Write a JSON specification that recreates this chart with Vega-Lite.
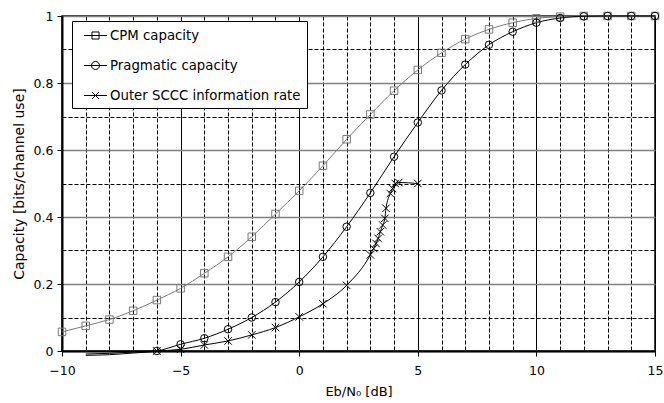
{
  "$schema": "https://vega.github.io/schema/vega-lite/v6.json",
  "width": 593,
  "height": 335,
  "autosize": {"type": "none"},
  "padding": {"left": 62, "top": 16, "right": 9, "bottom": 52},
  "background": "white",
  "config": {"font": "DejaVu Sans", "view": {"stroke": "black", "strokeWidth": 1.5}},
  "data": {"values": [
    {"series": "CPM capacity", "x": -10, "y": 0.057},
    {"series": "CPM capacity", "x": -9, "y": 0.075},
    {"series": "CPM capacity", "x": -8, "y": 0.094},
    {"series": "CPM capacity", "x": -7, "y": 0.12},
    {"series": "CPM capacity", "x": -6, "y": 0.152},
    {"series": "CPM capacity", "x": -5, "y": 0.187},
    {"series": "CPM capacity", "x": -4, "y": 0.232},
    {"series": "CPM capacity", "x": -3, "y": 0.281},
    {"series": "CPM capacity", "x": -2, "y": 0.341},
    {"series": "CPM capacity", "x": -1, "y": 0.409},
    {"series": "CPM capacity", "x": 0, "y": 0.478},
    {"series": "CPM capacity", "x": 1, "y": 0.553},
    {"series": "CPM capacity", "x": 2, "y": 0.632},
    {"series": "CPM capacity", "x": 3, "y": 0.706},
    {"series": "CPM capacity", "x": 4, "y": 0.777},
    {"series": "CPM capacity", "x": 5, "y": 0.839},
    {"series": "CPM capacity", "x": 6, "y": 0.89},
    {"series": "CPM capacity", "x": 7, "y": 0.931},
    {"series": "CPM capacity", "x": 8, "y": 0.96},
    {"series": "CPM capacity", "x": 9, "y": 0.98},
    {"series": "CPM capacity", "x": 10, "y": 0.993},
    {"series": "CPM capacity", "x": 11, "y": 0.998},
    {"series": "CPM capacity", "x": 12, "y": 1},
    {"series": "CPM capacity", "x": 13, "y": 1},
    {"series": "CPM capacity", "x": 14, "y": 1},
    {"series": "CPM capacity", "x": 15, "y": 1},
    {"series": "Pragmatic capacity", "x": -9, "y": -0.013},
    {"series": "Pragmatic capacity", "x": -8, "y": -0.011},
    {"series": "Pragmatic capacity", "x": -7, "y": -0.006},
    {"series": "Pragmatic capacity", "x": -6, "y": 0},
    {"series": "Pragmatic capacity", "x": -5, "y": 0.02},
    {"series": "Pragmatic capacity", "x": -4, "y": 0.038},
    {"series": "Pragmatic capacity", "x": -3, "y": 0.065},
    {"series": "Pragmatic capacity", "x": -2, "y": 0.1},
    {"series": "Pragmatic capacity", "x": -1, "y": 0.146},
    {"series": "Pragmatic capacity", "x": 0, "y": 0.206},
    {"series": "Pragmatic capacity", "x": 1, "y": 0.281},
    {"series": "Pragmatic capacity", "x": 2, "y": 0.371},
    {"series": "Pragmatic capacity", "x": 3, "y": 0.472},
    {"series": "Pragmatic capacity", "x": 4, "y": 0.58},
    {"series": "Pragmatic capacity", "x": 5, "y": 0.682},
    {"series": "Pragmatic capacity", "x": 6, "y": 0.778},
    {"series": "Pragmatic capacity", "x": 7, "y": 0.855},
    {"series": "Pragmatic capacity", "x": 8, "y": 0.914},
    {"series": "Pragmatic capacity", "x": 9, "y": 0.953},
    {"series": "Pragmatic capacity", "x": 10, "y": 0.98},
    {"series": "Pragmatic capacity", "x": 11, "y": 0.994},
    {"series": "Pragmatic capacity", "x": 12, "y": 0.999},
    {"series": "Pragmatic capacity", "x": 13, "y": 1},
    {"series": "Pragmatic capacity", "x": 14, "y": 1},
    {"series": "Pragmatic capacity", "x": 15, "y": 1},
    {"series": "Outer SCCC information rate", "x": -9, "y": -0.009},
    {"series": "Outer SCCC information rate", "x": -8, "y": -0.007},
    {"series": "Outer SCCC information rate", "x": -7, "y": -0.003},
    {"series": "Outer SCCC information rate", "x": -6, "y": 0},
    {"series": "Outer SCCC information rate", "x": -5, "y": 0.005},
    {"series": "Outer SCCC information rate", "x": -4, "y": 0.018},
    {"series": "Outer SCCC information rate", "x": -3, "y": 0.03},
    {"series": "Outer SCCC information rate", "x": -2, "y": 0.048},
    {"series": "Outer SCCC information rate", "x": -1, "y": 0.07},
    {"series": "Outer SCCC information rate", "x": 0, "y": 0.102},
    {"series": "Outer SCCC information rate", "x": 1, "y": 0.141},
    {"series": "Outer SCCC information rate", "x": 2, "y": 0.196},
    {"series": "Outer SCCC information rate", "x": 3.0, "y": 0.287},
    {"series": "Outer SCCC information rate", "x": 3.14, "y": 0.306},
    {"series": "Outer SCCC information rate", "x": 3.24, "y": 0.321},
    {"series": "Outer SCCC information rate", "x": 3.33, "y": 0.336},
    {"series": "Outer SCCC information rate", "x": 3.42, "y": 0.356},
    {"series": "Outer SCCC information rate", "x": 3.52, "y": 0.376},
    {"series": "Outer SCCC information rate", "x": 3.61, "y": 0.396},
    {"series": "Outer SCCC information rate", "x": 3.66, "y": 0.426},
    {"series": "Outer SCCC information rate", "x": 3.84, "y": 0.47},
    {"series": "Outer SCCC information rate", "x": 3.94, "y": 0.485},
    {"series": "Outer SCCC information rate", "x": 4.05, "y": 0.5},
    {"series": "Outer SCCC information rate", "x": 4.2, "y": 0.503},
    {"series": "Outer SCCC information rate", "x": 5, "y": 0.5}
  ]},
  "encoding": {
    "x": {
      "field": "x", "type": "quantitative",
      "scale": {"domain": [-10, 15], "nice": false, "zero": false},
      "axis": {
        "values": [-10,-9,-8,-7,-6,-5,-4,-3,-2,-1,0,1,2,3,4,5,6,7,8,9,10,11,12,13,14,15],
        "labelExpr": "datum.value % 5 === 0 ? datum.label : ''",
        "grid": true,
        "gridColor": "black",
        "gridWidth": 1,
        "gridDash": {"condition": {"test": "datum.value % 5 === 0", "value": []}, "value": [4, 2]},
        "tickColor": "black",
        "tickSize": 5,
        "tickOpacity": {"condition": {"test": "datum.value % 5 === 0", "value": 1}, "value": 0},
        "domainColor": "black",
        "domainWidth": 2,
        "labelFontSize": 12.5,
        "labelColor": "black",
        "labelPadding": 8,
        "labelFlush": false,
        "title": "Eb/N₀ [dB]",
        "titleFontSize": 13,
        "titleFontWeight": "normal",
        "titleColor": "black",
        "titlePadding": 9
      }
    },
    "y": {
      "field": "y", "type": "quantitative",
      "scale": {"domain": [0, 1], "nice": false, "zero": false},
      "axis": {
        "values": [0, 0.1, 0.2, 0.3, 0.4, 0.5, 0.6, 0.7, 0.8, 0.9, 1],
        "format": "~g",
        "labelExpr": "round(datum.value * 10) % 2 === 0 ? datum.label : ''",
        "grid": true,
        "gridColor": {"condition": {"test": "round(datum.value * 10) % 2 === 0", "value": "#808080"}, "value": "black"},
        "gridWidth": {"condition": {"test": "round(datum.value * 10) % 2 === 0", "value": 1.5}, "value": 1},
        "gridDash": {"condition": {"test": "round(datum.value * 10) % 2 === 0", "value": []}, "value": [4, 2]},
        "tickColor": "black",
        "tickSize": 5,
        "tickOpacity": {"condition": {"test": "round(datum.value * 10) % 2 === 0", "value": 1}, "value": 0},
        "domainColor": "black",
        "domainWidth": 2,
        "labelFontSize": 12.5,
        "labelColor": "black",
        "labelPadding": 4,
        "labelFlush": false,
        "title": "Capacity [bits/channel use]",
        "titleFontSize": 14,
        "titleFontWeight": "normal",
        "titleColor": "black",
        "titlePadding": 7
      }
    },
    "color": {
      "field": "series", "type": "nominal",
      "scale": {"domain": ["CPM capacity", "Pragmatic capacity", "Outer SCCC information rate"], "range": ["#7a7a7a", "#000000", "#000000"]},
      "legend": null
    }
  },
  "layer": [
    {"mark": {"type": "line", "interpolate": "monotone", "strokeWidth": 1}},
    {
      "transform": [{"filter": "datum.y >= 0"}, {"calculate": "datum.series", "as": "marker"}],
      "mark": {"type": "point", "filled": false, "size": 56, "strokeWidth": 1, "opacity": 1},
      "encoding": {
        "shape": {
          "field": "marker", "type": "nominal",
          "scale": {"domain": ["CPM capacity", "Pragmatic capacity", "Outer SCCC information rate"], "range": ["square", "circle", "M-1,-1L1,1M-1,1L1,-1"]},
          "legend": null
        }
      }
    },
    {
      "transform": [{"filter": "false"}],
      "mark": {"type": "point", "filled": false, "strokeWidth": 1, "opacity": 1},
      "encoding": {
        "shape": {
          "field": "series", "type": "nominal",
          "scale": {"domain": ["CPM capacity", "Pragmatic capacity", "Outer SCCC information rate"], "range": [
            "M-1.45,0H1.45M-0.44,-0.44H0.44V0.44H-0.44Z",
            "M-1.45,0H1.45M-0.5,0A0.5,0.5 0 1,1 0.5,0A0.5,0.5 0 1,1 -0.5,0Z",
            "M-1.45,0H1.45M-0.44,-0.44L0.44,0.44M-0.44,0.44L0.44,-0.44"
          ]},
          "legend": {
            "title": null,
            "orient": "none",
            "legendX": 10,
            "legendY": 5,
            "direction": "vertical",
            "strokeColor": "black",
            "fillColor": "white",
            "padding": 6,
            "cornerRadius": 0,
            "symbolSize": 256,
            "symbolStrokeWidth": 1,
            "symbolStrokeColor": "black",
            "symbolOpacity": 1,
            "symbolOffset": 9,
            "symbolFillColor": "transparent",
            "labelOffset": 6,
            "rowPadding": 15,
            "labelFontSize": 13.3,
            "labelColor": "black",
            "labelLimit": 0
          }
        }
      }
    }
  ],
  "resolve": {"scale": {"shape": "independent"}, "legend": {"shape": "independent"}}
}
